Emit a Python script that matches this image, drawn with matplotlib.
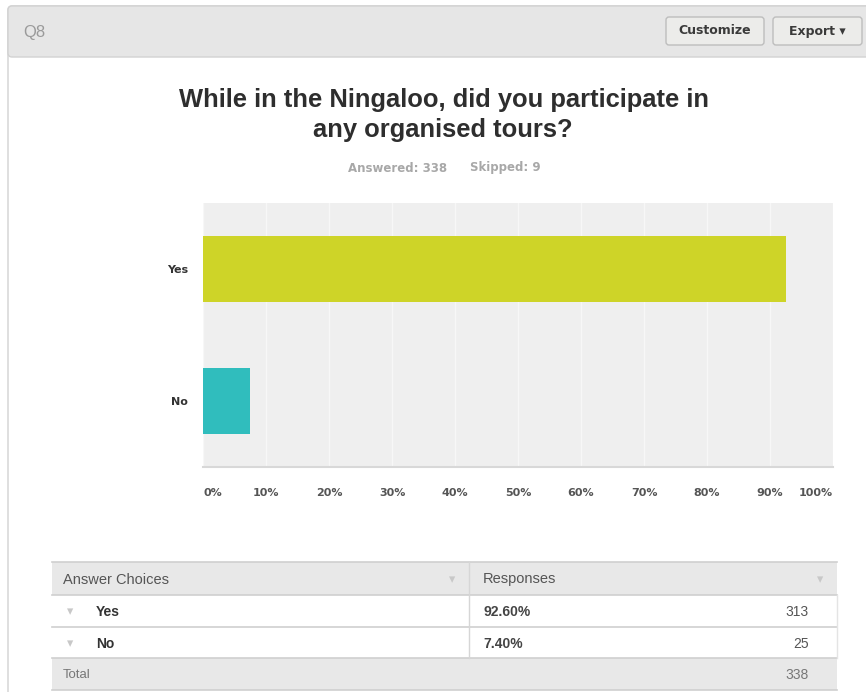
import matplotlib.pyplot as plt
from matplotlib.patches import FancyBboxPatch, Rectangle

# Survey answers
choices = ["Yes", "No"]
percents = [92.60, 7.40]
counts = [313, 25]
answered = 338
skipped = 9
bar_colors = ["#CED428", "#30BDBD"]
tick_values = [0, 10, 20, 30, 40, 50, 60, 70, 80, 90, 100]

W, H = 866, 692
fig = plt.figure(figsize=(W / 100, H / 100), dpi=100)
fig.patch.set_facecolor("white")
plt.rcParams["font.family"] = ["Liberation Sans", "DejaVu Sans"]
small_font = ["DejaVu Sans"]  # wide bold face for the small chart labels

# Overlay axes in pixel coordinates for the panel, header and table.
deco = fig.add_axes([0, 0, 1, 1])
deco.set_xlim(0, W)
deco.set_ylim(H, 0)
deco.axis("off")

# Panel and header bar
deco.add_patch(FancyBboxPatch((8, 6), W, H, boxstyle="round,pad=0,rounding_size=4",
                              facecolor="white", edgecolor="#D2D2D2", lw=1))
deco.add_patch(FancyBboxPatch((8, 6), W, 51, boxstyle="round,pad=0,rounding_size=4",
                              facecolor="#E6E6E6", edgecolor="#D2D2D2", lw=1))
deco.text(23, 32, "Q8", fontsize=12, color="#9A9A9A", va="center", ha="left")

# Header buttons
for x0, x1, label in [(666, 764, "Customize"), (773, 862, "Export \u25BE")]:
    deco.add_patch(FancyBboxPatch((x0, 17), x1 - x0, 28, boxstyle="round,pad=0,rounding_size=3",
                                  facecolor="#ECECEA", edgecolor="#BDBDBD", lw=1))
    deco.text((x0 + x1) / 2, 31, label, fontsize=9, fontweight="bold", color="#3A3A3A",
              ha="center", va="center", family=small_font)

# Title and response summary
deco.text(444, 100, "While in the Ningaloo, did you participate in", fontsize=18.4,
          fontweight="bold", color="#2E2E2E", ha="center", va="center")
deco.text(443, 130, "any organised tours?", fontsize=18.4,
          fontweight="bold", color="#2E2E2E", ha="center", va="center")
deco.text(398, 168, f"Answered: {answered}", fontsize=8.5, fontweight="bold",
          color="#A8A8A8", ha="center", va="center", family=small_font)
deco.text(505, 168, f"Skipped: {skipped}", fontsize=8.5, fontweight="bold",
          color="#A8A8A8", ha="center", va="center", family=small_font)

# Bar chart
left, right, top, bottom = 203, 833, 203, 467
ax = fig.add_axes([left / W, 1 - bottom / H, (right - left) / W, (bottom - top) / H])
ax.set_facecolor("#EFEFEF")
ax.barh(choices, percents, height=0.5, color=bar_colors, zorder=3)
ax.set_xlim(0, 100)
ax.set_ylim(1.5, -0.5)
ax.set_xticks(tick_values)
ax.set_xticklabels([f"{v}%" for v in tick_values])
ax.grid(axis="x", color="#F7F7F7", lw=1, zorder=1)
for s in ["top", "right", "left"]:
    ax.spines[s].set_visible(False)
ax.spines["bottom"].set_color("#D8D8D8")
ax.spines["bottom"].set_linewidth(1.5)
ax.tick_params(axis="both", length=0)
ax.tick_params(axis="x", pad=15, labelsize=8, labelcolor="#555555")
ax.tick_params(axis="y", pad=11, labelsize=8, labelcolor="#333333")
for lab in ax.get_xticklabels() + ax.get_yticklabels():
    lab.set_fontweight("bold")
    lab.set_family(small_font)
xl = ax.get_xticklabels()
xl[0].set_horizontalalignment("left")
xl[-1].set_horizontalalignment("right")

# Summary table
t_left, t_mid, t_right = 52, 469, 837
rows_y = [562, 595, 627, 658, 690]
deco.add_patch(Rectangle((t_left, rows_y[0]), t_right - t_left, rows_y[1] - rows_y[0],
                         facecolor="#E8E8E8", edgecolor="none"))
deco.add_patch(Rectangle((t_left, rows_y[3]), t_right - t_left, rows_y[4] - rows_y[3],
                         facecolor="#E8E8E8", edgecolor="none"))
for y in rows_y:
    deco.plot([t_left, t_right], [y, y], color="#CFCFCF", lw=1.2)
deco.plot([t_mid, t_mid], [rows_y[0], rows_y[3]], color="#D6D6D6", lw=1)
deco.plot([t_right, t_right], [rows_y[1], rows_y[3]], color="#E4E4E4", lw=1)

def cy(i):
    return (rows_y[i] + rows_y[i + 1]) / 2 + 1

deco.text(63, cy(0), "Answer Choices", fontsize=10.5, color="#555555", va="center")
deco.text(483, cy(0), "Responses", fontsize=10.5, color="#555555", va="center")
for x in [452, 820]:
    deco.text(x, cy(0), "\u25BE", fontsize=9, color="#C8C8C8", ha="center", va="center",
              family=small_font)

for i, (name, pct, n) in enumerate(zip(choices, percents, counts), start=1):
    deco.text(70, cy(i), "\u25BE", fontsize=9, color="#C8C8C8", ha="center", va="center",
              family=small_font)
    deco.text(96, cy(i), name, fontsize=10, fontweight="bold", color="#333333", va="center")
    deco.text(483, cy(i), f"{pct:.2f}%", fontsize=10, fontweight="bold", color="#444444",
              va="center")
    deco.text(809, cy(i), f"{n}", fontsize=10, color="#555555", ha="right", va="center")

deco.text(63, cy(3), "Total", fontsize=9.5, color="#777777", va="center")
deco.text(809, cy(3), f"{sum(counts)}", fontsize=10, color="#777777", ha="right", va="center")

fig.savefig("out.png", dpi=100)
